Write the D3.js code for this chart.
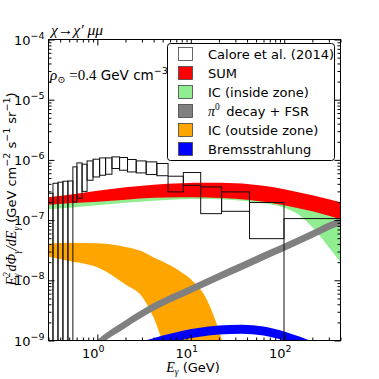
<!DOCTYPE html>
<html>
<head>
<meta charset="utf-8">
<script src="https://cdn.jsdelivr.net/npm/d3@7"></script>
<style>
body { margin: 0; background: #fff; }
svg { display: block; }
</style>
</head>
<body>
<div id="chart"></div>
<script>
// Calore et al. (2014) boxes: energy bin edges (GeV) and flux range per bin
const binEdges = [0.3, 0.335, 0.379, 0.428, 0.484, 0.547, 0.604, 0.686, 0.776, 0.899, 1.057, 1.225,
    1.433, 1.728, 2.103, 2.604, 3.328, 4.33, 5.71, 8.32, 12.76, 21.36, 42.5, 99.4, 500]
const caloreHigh = [2.79e-7, 4.09e-7, 4.26e-7, 4.42e-7, 4.47e-7, 7.66e-7, 8.91e-7, 8.48e-7, 9.62e-7, 1.027e-6,
    1.079e-6, 1.079e-6, 1.122e-6, 1.096e-6, 1.016e-6, 9.62e-7, 9.27e-7, 8.71e-7, 5.36e-7, 6.17e-7,
    3.56e-7, 2.94e-7, 1.96e-7, 1.06e-7]
const caloreLow = [1e-11, 1e-11, 1e-11, 1e-11, 1e-11, 2.0e-7, 2.3e-7, 3.0e-7, 4.59e-7, 5.21e-7,
    5.56e-7, 5.78e-7, 7.19e-7, 6.74e-7, 6.31e-7, 6.08e-7, 5.71e-7, 5.46e-7, 2.94e-7, 3.79e-7,
    1.28e-7, 1.40e-7, 4.92e-8, 1e-11]

// SUM and IC (inside zone)
const sumE = [0.3, 0.5, 1, 2, 4, 8, 15, 30, 60, 100, 150, 200, 300, 400]
const sumHigh = [2.40e-7, 2.64e-7, 3.07e-7, 3.51e-7, 3.87e-7, 4.10e-7, 4.17e-7, 4.10e-7, 3.72e-7, 3.25e-7, 2.85e-7, 2.59e-7, 2.22e-7, 1.98e-7]
const sumLow = [1.80e-7, 1.90e-7, 2.02e-7, 2.18e-7, 2.35e-7, 2.40e-7, 2.37e-7, 2.26e-7, 2.02e-7, 1.76e-7, 1.54e-7, 1.40e-7, 1.18e-7, 1.03e-7]
const icInHigh = [2.06e-7, 2.18e-7, 2.31e-7, 2.49e-7, 2.69e-7, 2.79e-7, 2.79e-7, 2.69e-7, 2.49e-7, 2.22e-7, 1.98e-7, 1.80e-7, 1.51e-7, 1.30e-7]
const icInLow = [1.51e-7, 1.60e-7, 1.76e-7, 1.94e-7, 2.09e-7, 2.22e-7, 2.24e-7, 2.14e-7, 1.90e-7, 1.60e-7, 1.16e-7, 7.59e-8, 3.55e-8, 1.99e-8]

// pi0 decay + FSR
const pi0E = [0.9, 1, 2, 4, 10, 20, 35, 60, 100, 200, 300, 400]
const pi0Low = [6.4e-10, 7.6e-10, 1.62e-9, 3.12e-9, 6.1e-9, 1.0e-8, 1.47e-8, 2.16e-8, 3.06e-8, 5.02e-8, 6.85e-8, 8.12e-8]
const pi0High = [8.6e-10, 1.01e-9, 2.17e-9, 4.18e-9, 8.15e-9, 1.34e-8, 1.97e-8, 2.89e-8, 4.08e-8, 6.7e-8, 9.1e-8, 1.08e-7]

// IC (outside zone)
const icOutE = [0.3, 0.5, 1, 1.5, 2, 3, 4, 5, 6, 8, 10, 15, 20, 25]
const icOutHigh = [4.03e-8, 4.19e-8, 4.11e-8, 3.88e-8, 3.59e-8, 3.03e-8, 2.40e-8, 2.06e-8, 1.77e-8, 1.35e-8, 1.04e-8, 4.63e-9, 1.47e-9, 4.6e-10]
const icOutLow = [2.45e-8, 2.10e-8, 1.64e-8, 1.16e-8, 8.55e-9, 5.40e-9, 2.41e-9, 1.0e-9, 6.8e-10, 3e-10, 2e-10, 1e-10, 1e-10, 1e-10]

// Bremsstrahlung
const bremE = [3, 5, 8, 12, 20, 35, 60, 100, 150, 200]
const bremHigh = [9.6e-10, 1.21e-9, 1.44e-9, 1.61e-9, 1.78e-9, 1.82e-9, 1.71e-9, 1.41e-9, 1.14e-9, 9.6e-10]
const bremLow = [6.8e-10, 8.6e-10, 1.02e-9, 1.14e-9, 1.26e-9, 1.29e-9, 1.21e-9, 1.0e-9, 8.1e-10, 6.8e-10]

const yMajor = [1e-9, 1e-8, 1e-7, 1e-6, 1e-5, 1e-4]
const xMajor = [1, 10, 100]
const legendLabels = ["Calore et al. (2014)", "SUM", "IC (inside zone)", "decay + FSR", "IC (outside zone)", "Bremsstrahlung"]
const legendColors = ["#ffffff", "#ff0000", "#90ee90", "#808080", "#ffa500", "#0000ff"]

const W = 379, H = 379
const pLeft = 48.5, pRight = 340.5, pTop = 39.5, pBottom = 340.5
const serif = "'Liberation Serif', 'DejaVu Serif', serif"
const sans = "'DejaVu Sans', sans-serif"

svg = d3.select("#chart").append("svg")
    .attr("width", W)
    .attr("height", H)

x = d3.scaleLog().domain([0.3, 400]).range([pLeft, pRight])
y = d3.scaleLog().domain([1e-9, 1e-4]).range([pBottom, pTop])

svg.append("defs").append("clipPath").attr("id", "plot-clip")
    .append("rect")
    .attr("x", pLeft).attr("y", pTop)
    .attr("width", pRight - pLeft).attr("height", pBottom - pTop)

plot = svg.append("g").attr("clip-path", "url(#plot-clip)")

function band(E, lo, hi, color) {
    const pts = E.map((e, i) => ({ e: e, lo: lo[i], hi: hi[i] }))
    const area = d3.area()
        .x(d => x(d.e))
        .y0(d => y(d.lo))
        .y1(d => y(d.hi))
        .curve(d3.curveMonotoneX)
    plot.append("path").datum(pts).attr("d", area).attr("fill", color)
}

band(sumE, icInLow, icInHigh, "#90ee90")
band(sumE, sumLow, sumHigh, "#ff0000")
band(icOutE, icOutLow, icOutHigh, "#ffa500")
band(pi0E, pi0Low, pi0High, "#808080")
band(bremE, bremLow, bremHigh, "#0000ff")

// Calore boxes on top
plot.selectAll("rect.calore")
    .data(caloreHigh.map((h, i) => ({ x0: binEdges[i], x1: binEdges[i + 1], lo: caloreLow[i], hi: h })))
    .join("rect")
    .attr("class", "calore")
    .attr("x", d => x(d.x0))
    .attr("y", d => y(d.hi))
    .attr("width", d => x(d.x1) - x(d.x0))
    .attr("height", d => y(d.lo) - y(d.hi))
    .attr("fill", "none")
    .attr("stroke", "#111")
    .attr("stroke-width", 1)

// ticks, all pointing inward
function minorTicks(lo, hi) {
    const out = []
    for (let p = Math.floor(Math.log10(lo)); p <= Math.ceil(Math.log10(hi)); p++)
        for (let k = 2; k <= 9; k++) {
            const v = k * Math.pow(10, p)
            if (v >= lo && v <= hi) out.push(v)
        }
    return out
}
const xMinor = minorTicks(0.3, 400)
const yMinor = minorTicks(1e-9, 1e-4)

function ticks(axis, tr, vals, size) {
    const g = svg.append("g")
        .attr("transform", tr)
        .call(axis.tickValues(vals).tickSize(-size).tickSizeOuter(0).tickFormat(""))
    g.select(".domain").remove()
    g.selectAll("line").attr("stroke", "#000").attr("stroke-width", 1)
}
ticks(d3.axisLeft(y), `translate(${pLeft},0)`, yMajor, 6)
ticks(d3.axisLeft(y), `translate(${pLeft},0)`, yMinor, 3)
ticks(d3.axisRight(y), `translate(${pRight},0)`, yMajor, 6)
ticks(d3.axisRight(y), `translate(${pRight},0)`, yMinor, 3)
ticks(d3.axisBottom(x), `translate(0,${pBottom})`, xMajor, 6)
ticks(d3.axisBottom(x), `translate(0,${pBottom})`, xMinor, 3)
ticks(d3.axisTop(x), `translate(0,${pTop})`, xMajor, 6)
ticks(d3.axisTop(x), `translate(0,${pTop})`, xMinor, 3)

svg.append("rect")
    .attr("x", pLeft).attr("y", pTop)
    .attr("width", pRight - pLeft).attr("height", pBottom - pTop)
    .attr("fill", "none").attr("stroke", "#000").attr("stroke-width", 1)

// tick labels
ylab = svg.selectAll("text.ylab").data(yMajor).join("text")
    .attr("class", "ylab")
    .attr("x", pLeft - 4)
    .attr("y", d => y(d) + 5)
    .attr("text-anchor", "end")
    .attr("font-family", sans)
    .attr("font-size", 13)
ylab.append("tspan").text("10")
ylab.append("tspan").attr("dy", -6).attr("font-size", 9.5)
    .text(d => "\u2212" + Math.round(-Math.log10(d)))

xlab = svg.selectAll("text.xlab").data(xMajor).join("text")
    .attr("class", "xlab")
    .attr("x", d => x(d) - 4)
    .attr("y", pBottom + 17)
    .attr("text-anchor", "middle")
    .attr("font-family", sans)
    .attr("font-size", 13)
xlab.append("tspan").text("10")
xlab.append("tspan").attr("dy", -6).attr("font-size", 9.5)
    .text(d => Math.round(Math.log10(d)))

// x axis title
xt = svg.append("text")
    .attr("x", 193).attr("y", 372)
    .attr("text-anchor", "middle")
    .attr("font-size", 13)
xt.append("tspan").attr("font-family", serif).attr("font-style", "italic").attr("font-size", 14).text("E")
xt.append("tspan").attr("font-family", serif).attr("font-style", "italic").attr("font-size", 9.5).attr("dy", 3).text("\u03b3")
xt.append("tspan").attr("font-family", sans).attr("dy", -3).text(" (GeV)")

// y axis title
yt = svg.append("text")
    .attr("transform", "translate(16,189) rotate(-90)")
    .attr("text-anchor", "middle")
    .attr("font-size", 13)
function ms(t, size, dx, dy) {
    yt.append("tspan").attr("font-family", serif).attr("font-style", "italic")
        .attr("font-size", size).attr("dx", dx).attr("dy", dy).text(t)
}
function ss(t, size, dy) {
    yt.append("tspan").attr("font-family", sans).attr("font-size", size).attr("dy", dy).text(t)
}
ms("E", 14, 0, 0)
ms("2", 9.5, 0, -6)
ms("\u03b3", 9.5, -5, 10)
ms("d\u03a6", 14, 2, -4)
ms("\u03b3", 9.5, 0, 4)
ms("/dE", 14, 0, -4)
ms("\u03b3", 9.5, 0, 4)
ss(" (GeV cm", 13, -4)
ss("\u22122", 9.5, -6)
ss(" s", 13, 6)
ss("\u22121", 9.5, -6)
ss(" sr", 13, 6)
ss("\u22121", 9.5, -6)
ss(")", 13, 6)

// title above the frame
tt = svg.append("text").attr("x", 51).attr("y", 35)
    .attr("font-family", serif).attr("font-size", 15.5)
tt.append("tspan").attr("font-style", "italic").text("\u03c7")
tt.append("tspan").text("\u2192")
tt.append("tspan").attr("font-style", "italic").text("\u03c7\u2032 \u03bc\u03bc")

// density note
nt = svg.append("text").attr("x", 50).attr("y", 80).attr("font-size", 13.5)
nt.append("tspan").attr("font-family", serif).attr("font-style", "italic").attr("font-size", 15).text("\u03c1")
nt.append("tspan").attr("font-family", serif).attr("font-size", 10).attr("dy", 3).text("\u2299")
nt.append("tspan").attr("font-family", serif).attr("font-size", 15).attr("dy", -3).text(" =0.4")
nt.append("tspan").attr("font-family", sans).text(" GeV cm")
nt.append("tspan").attr("font-family", sans).attr("font-size", 9.5).attr("dy", -6).text("\u22123")

// legend
leg = svg.append("g")
leg.append("rect")
    .attr("x", 167.5).attr("y", 43.5)
    .attr("width", 167).attr("height", 117)
    .attr("rx", 3)
    .attr("fill", "#fff").attr("stroke", "#000").attr("stroke-width", 1)
rows = leg.selectAll("g.row").data(legendLabels).join("g")
    .attr("class", "row")
    .attr("transform", (d, i) => `translate(0,${54 + i * 19})`)
rows.append("rect")
    .attr("x", 178.5).attr("y", -6.5)
    .attr("width", 14).attr("height", 13)
    .attr("fill", (d, i) => legendColors[i])
    .attr("stroke", "#444").attr("stroke-width", 0.8)
rows.append("text")
    .attr("x", 208).attr("y", 5)
    .attr("font-family", sans).attr("font-size", 13)
    .each(function(d, i) {
        const t = d3.select(this)
        if (i == 3) {
            t.append("tspan").attr("font-family", serif).attr("font-style", "italic").attr("font-size", 14).text("\u03c0")
            t.append("tspan").attr("font-family", serif).attr("font-size", 9.5).attr("dy", -6).text("0")
            t.append("tspan").attr("dy", 6).text("\u2002" + d)
        } else {
            t.text(d)
        }
    })
</script>
</body>
</html>
